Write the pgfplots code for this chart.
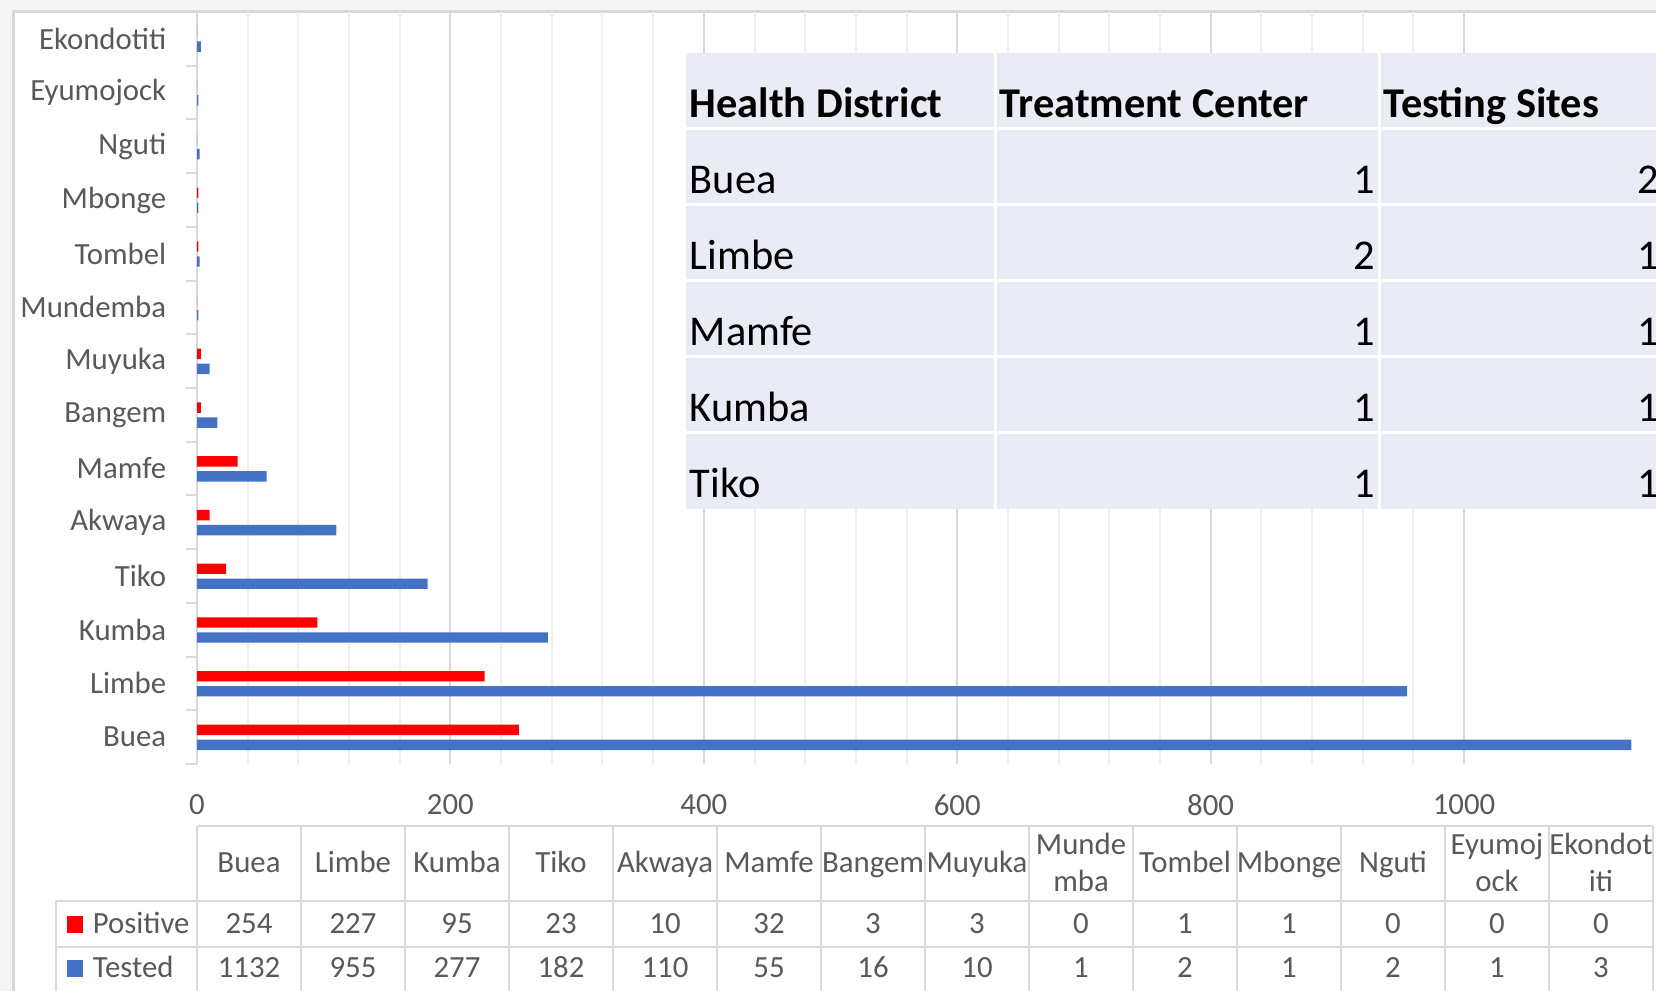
\documentclass[border=0pt]{standalone}
\usepackage{pgfplots}
\pgfplotsset{compat=1.18}
\usepackage{fontspec}
\setmainfont{Carlito}
\definecolor{txt}{HTML}{595959}
\definecolor{gridmaj}{HTML}{D9D9D9}
\definecolor{gridmin}{HTML}{EFEFEF}
\definecolor{barblue}{HTML}{4472C4}
\definecolor{barred}{HTML}{FF0000}
\definecolor{tblfill}{HTML}{E9EBF5}
\newcommand{\cf}{\fontsize{7.7pt}{9.25pt}\selectfont}
\newcommand{\tf}{\fontsize{10.6pt}{12pt}\selectfont}

\begin{document}
\begin{tikzpicture}
\useasboundingbox (0,0) rectangle (414pt,247.75pt);
\begin{scope}[x=0.25pt,y=-0.25pt,yshift=247.75pt]
\fill[black!4] (0,0) rectangle (1656,12);
\fill[black!4] (0,0) rectangle (13,991);
\draw[gridmaj, line width=0.75pt] (13,991) -- (13,12) -- (1656,12);
\end{scope}

\begin{axis}[at={(49.25pt,56.75pt)}, anchor=south west, scale only axis,
  width=364.75pt, height=188pt,
  xmin=0, xmax=1151.5, ymin=-0.5, ymax=13.5,
  xbar, bar width=2.6pt,
  axis lines*=left,
  x axis line style={draw=none},
  y axis line style={gridmaj, line width=0.6pt, -},
  xtick={0,200,...,1000}, xticklabels={0,200,400,600,800,1000},
  minor x tick num=4, xmajorgrids, xminorgrids,
  major grid style={gridmaj, line width=0.5pt},
  minor grid style={gridmin, line width=0.5pt},
  major x tick style={draw=none}, minor x tick style={draw=none},
  ytick={0,...,13},
  yticklabels={Buea,Limbe,Kumba,Tiko,Akwaya,Mamfe,Bangem,Muyuka,Mundemba,Tombel,Mbonge,Nguti,Eyumojock,Ekondotiti},
  minor ytick={-0.5,0.5,...,13.5},
  tick align=outside, major tick length=0pt, minor tick length=2.75pt,
  minor y tick style={gridmaj, line width=0.5pt},
  major y tick style={draw=none},
  tick label style={font=\cf, text=txt},
  xticklabel style={anchor=center, inner sep=0pt, yshift=-10.25pt},
  yticklabel style={anchor=east, inner sep=0pt, xshift=-7.5pt},
]
\addplot[fill=barred, draw=none, bar shift=1.8pt] coordinates {
 (254,0) (227,1) (95,2) (23,3) (10,4) (32,5) (3,6) (3,7) (0,8) (1,9) (1,10) (0,11) (0,12) (0,13)};
\addplot[fill=barblue, draw=none, bar shift=-1.95pt] coordinates {
 (1132,0) (955,1) (277,2) (182,3) (110,4) (55,5) (16,6) (10,7) (1,8) (2,9) (1,10) (2,11) (1,12) (3,13)};
\end{axis}

\begin{scope}[x=0.25pt,y=-0.25pt,yshift=247.75pt]
% overlay table
\fill[tblfill] (686,53) rectangle (1680,509);
\foreach \xx in {995,1379} \draw[white, line width=0.75pt] (\xx,53) -- (\xx,509);
\foreach \yy in {129,205,281,357,433} \draw[white, line width=0.75pt] (686,\yy) -- (1680,\yy);
\begin{scope}[every node/.style={inner sep=0pt, text=black, font=\tf}]
\node[anchor=base west, font=\tf\bfseries] at (689,118) {Health District};
\node[anchor=base west, font=\tf\bfseries] at (999,118) {Treatment Center};
\node[anchor=base west, font=\tf\bfseries] at (1383,118) {Testing Sites};
\foreach \nm/\a/\b [count=\i] in {Buea/1/2, Limbe/2/1, Mamfe/1/1, Kumba/1/1, Tiko/1/1}{
  \pgfmathsetmacro{\bl}{118+76*\i}
  \node[anchor=base west] at (689,\bl) {\nm};
  \node[anchor=base east] at (1376,\bl) {\a};
  \node[anchor=base east] at (1660,\bl) {\b};
}
\end{scope}

% data table
\begin{scope}[gridmaj, line width=0.5pt]
\draw (197,826) -- (1653,826);
\draw (55.7,901) -- (1653,901);
\draw (55.7,947) -- (1653,947);
\draw (55.7,901) -- (55.7,1000);
\foreach \k in {0,...,14} \draw ({197+104*\k},826) -- ({197+104*\k},1000);
\end{scope}
\fill[barred] (67,916) rectangle (83,933);
\fill[barblue] (67,960) rectangle (83,977);
\begin{scope}[every node/.style={inner sep=0pt, text=txt, font=\cf, align=center}]
\node[anchor=base west] at (92,934) {Positive};
\node[anchor=base west] at (92,978) {Tested};
\foreach \nm [count=\i from 0] in {Buea,Limbe,Kumba,Tiko,Akwaya,Mamfe,Bangem,Muyuka,,Tombel,Mbonge,Nguti,,}{
  \node[anchor=base] at ({249+104*\i},873) {\nm};
}
\node[anchor=base] at ({249+104*8},855) {Munde};
\node[anchor=base] at ({249+104*8},892) {mba};
\node[anchor=base] at ({249+104*12},855) {Eyumoj};
\node[anchor=base] at ({249+104*12},892) {ock};
\node[anchor=base] at ({249+104*13},855) {Ekondot};
\node[anchor=base] at ({249+104*13},892) {iti};
\foreach \v [count=\i from 0] in {254,227,95,23,10,32,3,3,0,1,1,0,0,0}{
  \node[anchor=base] at ({249+104*\i},934) {\v};
}
\foreach \v [count=\i from 0] in {1132,955,277,182,110,55,16,10,1,2,1,2,1,3}{
  \node[anchor=base] at ({249+104*\i},978) {\v};
}
\end{scope}
\end{scope}
\end{tikzpicture}
\end{document}
